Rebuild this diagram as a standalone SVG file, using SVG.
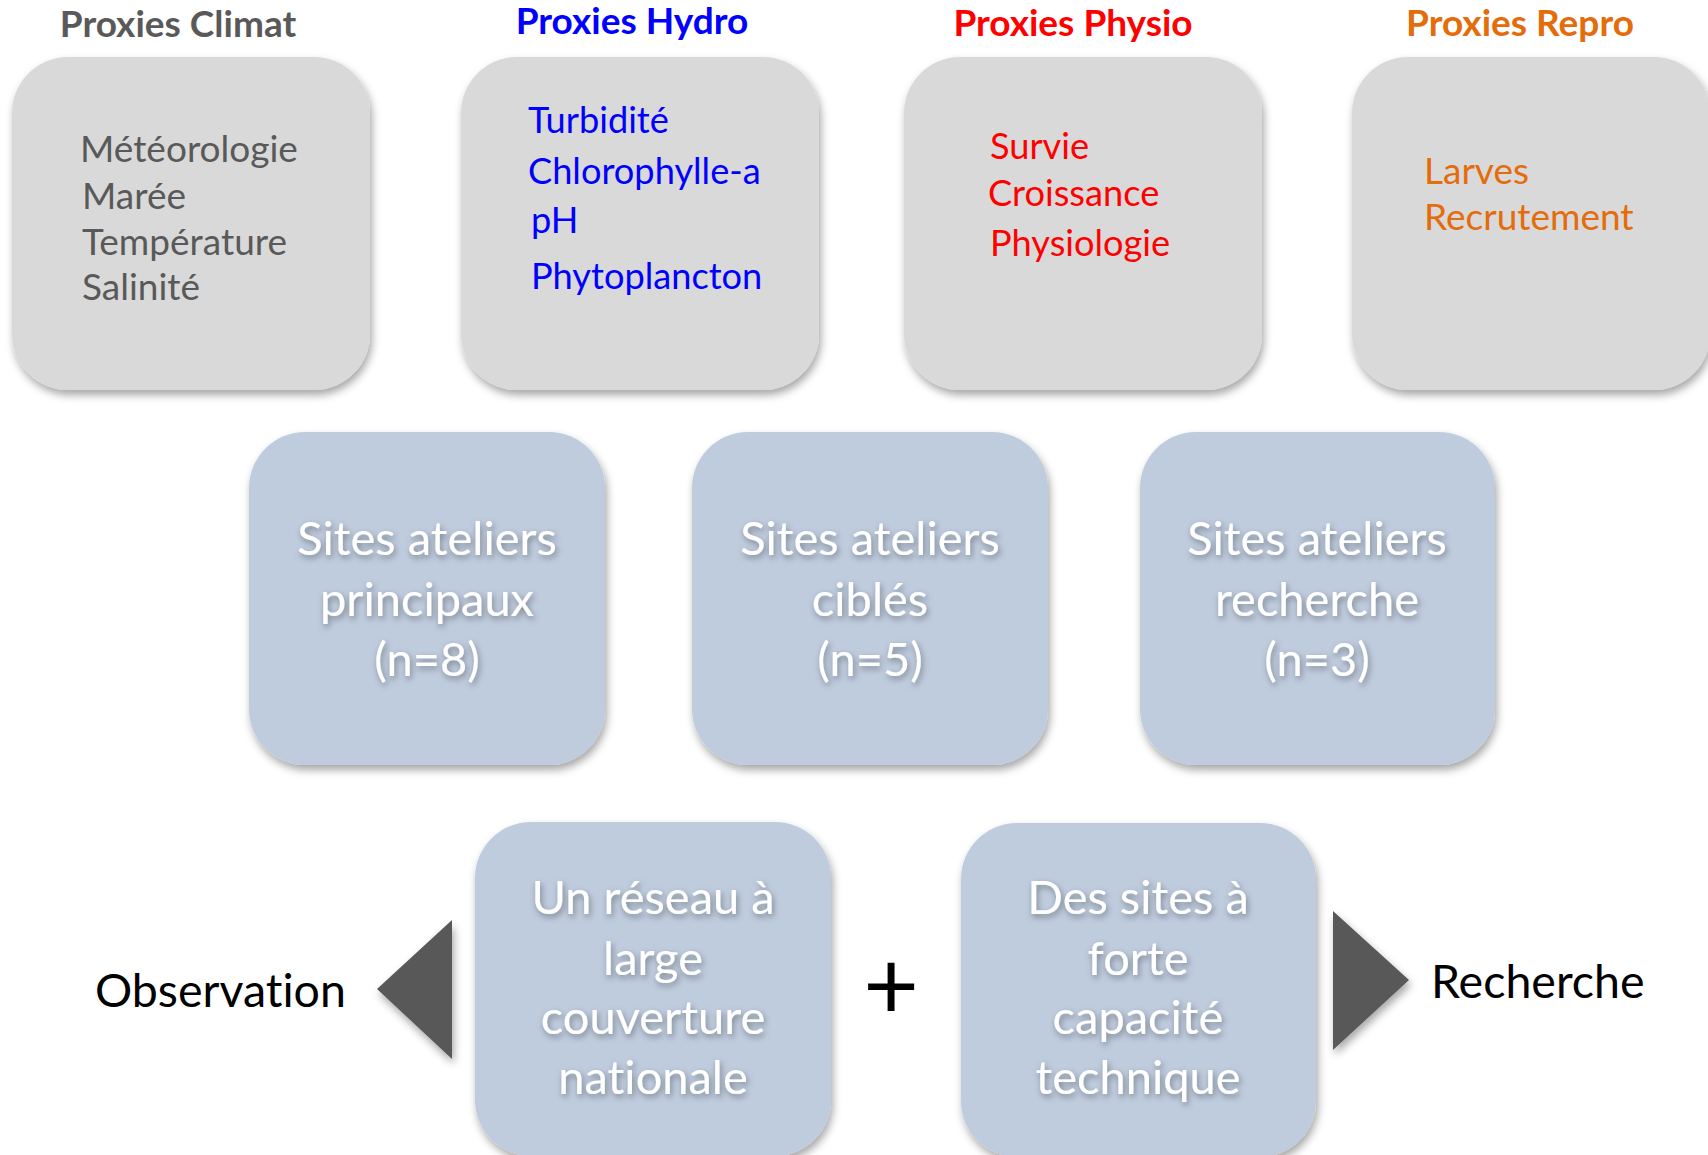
<svg xmlns="http://www.w3.org/2000/svg" width="1708" height="1155" viewBox="0 0 1708 1155">
<defs>
<filter id="boxShadow" x="-10%" y="-10%" width="130%" height="130%">
<feDropShadow dx="2" dy="5" stdDeviation="4" flood-color="#000" flood-opacity="0.35"/>
</filter>
<filter id="txtShadow" x="-10%" y="-20%" width="130%" height="150%">
<feDropShadow dx="1.5" dy="3" stdDeviation="3" flood-color="#000" flood-opacity="0.38"/>
</filter>
<style>
text{font-variant-ligatures:none}
.gray{fill:#D9D9D9;filter:url(#boxShadow)}
.blue{fill:#BFCCDE;filter:url(#boxShadow)}
.title{font-family:Lato,"Open Sans",sans-serif;font-weight:bold;font-size:37px;text-anchor:middle}
.item{font-family:Lato,"Open Sans",sans-serif;font-size:37px}
.item.sm{font-size:36.2px}
.site{font-family:Lato,"Open Sans",sans-serif;font-size:47px;fill:#FFFFFF;text-anchor:middle;filter:url(#txtShadow)}
.side{font-family:Lato,"Open Sans",sans-serif;font-size:46.5px;fill:#000000}
.tri{fill:#595959;filter:url(#boxShadow)}
</style>
</defs>
<rect width="1708" height="1155" fill="#FFFFFF"/>

<g id="climat">
<text class="title" x="178" y="37" fill="#595959">Proxies Climat</text>
<rect class="gray" x="12" y="57" width="358" height="333" rx="56" ry="56"/>
<g class="item" fill="#595959">
<text x="80" y="162">Météorologie</text>
<text x="82" y="209">Marée</text>
<text x="82" y="255">Température</text>
<text x="82" y="300">Salinité</text>
</g>
</g>

<g id="hydro">
<text class="title" x="632" y="34" fill="#0000FF">Proxies Hydro</text>
<rect class="gray" x="461" y="57" width="358" height="333" rx="56" ry="56"/>
<g class="item sm" fill="#0000FF">
<text x="528" y="133">Turbidité</text>
<text x="528" y="184">Chlorophylle-a</text>
<text x="531" y="233">pH</text>
<text x="531" y="289">Phytoplancton</text>
</g>
</g>

<g id="physio">
<text class="title" x="1073" y="36" fill="#FF0000">Proxies Physio</text>
<rect class="gray" x="904" y="57" width="358" height="333" rx="56" ry="56"/>
<g class="item sm" fill="#FF0000">
<text x="990" y="159">Survie</text>
<text x="988" y="206">Croissance</text>
<text x="990" y="256">Physiologie</text>
</g>
</g>

<g id="repro">
<text class="title" x="1520" y="36" fill="#E46C0A">Proxies Repro</text>
<rect class="gray" x="1352" y="57" width="358" height="333" rx="56" ry="56"/>
<g class="item" fill="#E46C0A">
<text x="1424" y="184">Larves</text>
<text x="1424" y="230">Recrutement</text>
</g>
</g>

<g id="sites-principaux">
<rect class="blue" x="249" y="432" width="356" height="333" rx="56" ry="56"/>
<text class="site" x="427" y="555">Sites ateliers</text>
<text class="site" x="427" y="616">principaux</text>
<text class="site" x="427" y="676">(n=8)</text>
</g>

<g id="sites-cibles">
<rect class="blue" x="692" y="432" width="356" height="333" rx="56" ry="56"/>
<text class="site" x="870" y="555">Sites ateliers</text>
<text class="site" x="870" y="616">ciblés</text>
<text class="site" x="870" y="676">(n=5)</text>
</g>

<g id="sites-recherche">
<rect class="blue" x="1140" y="432" width="355" height="333" rx="56" ry="56"/>
<text class="site" x="1317" y="555">Sites ateliers</text>
<text class="site" x="1317" y="616">recherche</text>
<text class="site" x="1317" y="676">(n=3)</text>
</g>

<g id="reseau">
<rect class="blue" x="475" y="822" width="356" height="334" rx="56" ry="56"/>
<text class="site" x="653" y="914">Un réseau à</text>
<text class="site" x="653" y="975">large</text>
<text class="site" x="653" y="1034">couverture</text>
<text class="site" x="653" y="1094">nationale</text>
</g>

<g id="plus">
<text x="891" y="1019" font-family="Lato,'Open Sans',sans-serif" font-size="96" fill="#000000" text-anchor="middle">+</text>
</g>

<g id="sites-techniques">
<rect class="blue" x="961" y="823" width="355" height="334" rx="56" ry="56"/>
<text class="site" x="1138" y="914">Des sites à</text>
<text class="site" x="1138" y="975">forte</text>
<text class="site" x="1138" y="1034">capacité</text>
<text class="site" x="1138" y="1094">technique</text>
</g>

<g id="observation">
<text class="side" x="95" y="1007">Observation</text>
</g>

<g id="recherche">
<text class="side" x="1431" y="998">Recherche</text>
</g>

<g id="connectors">
<polygon class="tri" points="452,920 452,1059 377,989"/>
<polygon class="tri" points="1333,911 1333,1050 1409,980"/>
</g>
</svg>
